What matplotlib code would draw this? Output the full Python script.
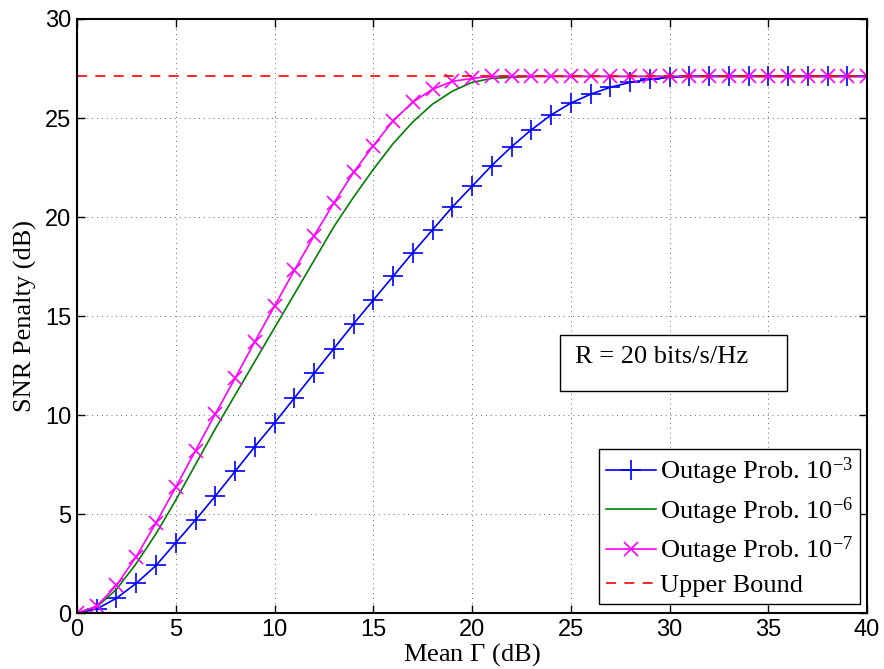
import numpy as np
import matplotlib
matplotlib.use("Agg")
import matplotlib.pyplot as plt
from matplotlib.patches import Rectangle

# --- Data ---
gamma_db = list(range(0, 41))

snr_p3 = [0.0, 0.2, 0.75, 1.5, 2.4, 3.55, 4.7, 5.9, 7.15, 8.4,
          9.6, 10.85, 12.1, 13.35, 14.6, 15.8, 17.0, 18.2, 19.35, 20.5,
          21.55, 22.6, 23.55, 24.4, 25.15, 25.75, 26.2, 26.55, 26.8, 26.95,
          27.05, 27.1, 27.1, 27.1, 27.1, 27.1, 27.1, 27.1, 27.1, 27.1, 27.1]

snr_p6 = [0.0, 0.3, 1.2, 2.5, 4.0, 5.7, 7.5, 9.3, 11.0, 12.7,
          14.4, 16.1, 17.8, 19.5, 21.0, 22.4, 23.7, 24.8, 25.7, 26.35,
          26.8, 27.0, 27.05, 27.1, 27.1, 27.1, 27.1, 27.1, 27.1, 27.1,
          27.1, 27.1, 27.1, 27.1, 27.1, 27.1, 27.1, 27.1, 27.1, 27.1, 27.1]

snr_p7 = [0.0, 0.35, 1.4, 2.85, 4.55, 6.35, 8.2, 10.05, 11.85, 13.7,
          15.5, 17.3, 19.05, 20.7, 22.25, 23.6, 24.85, 25.8, 26.45, 26.85,
          27.0, 27.1, 27.1, 27.1, 27.1, 27.1, 27.1, 27.1, 27.1, 27.1,
          27.1, 27.1, 27.1, 27.1, 27.1, 27.1, 27.1, 27.1, 27.1, 27.1, 27.1]

upper_bound = 27.1

labels = [r"Outage Prob. $10^{-3}$", r"Outage Prob. $10^{-6}$",
          r"Outage Prob. $10^{-7}$", "Upper Bound"]

# --- Figure ---
plt.rcParams['mathtext.fontset'] = 'custom'
plt.rcParams['mathtext.rm'] = 'Liberation Serif'
plt.rcParams['mathtext.it'] = 'Liberation Serif:italic'
serif = 'Liberation Serif'
fs = 19

fig = plt.figure(figsize=(8.84, 6.69), dpi=100)
ax = fig.add_axes([0.0871, 0.0837, 0.8937, 0.8879])

ax.plot(gamma_db, snr_p3, color=(0, 0, 1), lw=1.2, marker='+', ms=15, mew=1.2, label=labels[0])
ax.plot(gamma_db, snr_p6, color=(0, 0.5, 0), lw=1.2, label=labels[1])
ax.plot(gamma_db, snr_p7, color=(1, 0, 1), lw=1.2, marker='x', ms=10, mew=1.2, label=labels[2])
ax.plot([gamma_db[0], gamma_db[-1]], [upper_bound, upper_bound], color=(1, 0, 0),
        lw=1.2, ls=(0, (6, 5)), label=labels[3])

ax.set_xlim(0, 40)
ax.set_ylim(0, 30)
ax.set_xticks(range(0, 41, 5))
ax.set_yticks(range(0, 31, 5))
ax.grid(True, color='black', ls=(0, (1, 4)), lw=0.7, alpha=0.6)
ax.tick_params(direction='in', top=True, right=True, length=6, width=1,
               labelsize=17, pad=4)
for lab in ax.get_xticklabels() + ax.get_yticklabels():
    lab.set_family('Liberation Sans')
for sp in ax.spines.values():
    sp.set_linewidth(1.5)

ax.set_xlabel(r"Mean $\Gamma$ (dB)", family=serif, fontsize=fs)
ax.xaxis.set_label_coords(0.5, -0.048)
ax.set_ylabel("SNR Penalty (dB)", family=serif, fontsize=fs)
ax.yaxis.set_label_coords(-0.05, 0.5)

# annotation box
ax.add_patch(Rectangle((0.611, 0.374), 0.288, 0.094, transform=ax.transAxes,
                       fc='white', ec='black', lw=1, zorder=5))
ax.text(0.630, 0.421, "R = 20 bits/s/Hz", transform=ax.transAxes,
        family=serif, fontsize=fs, va='baseline', ha='left', zorder=6)

leg = ax.legend(loc='lower right', bbox_to_anchor=(0.991, 0.015),
                prop={'family': serif, 'size': fs},
                frameon=True, fancybox=False, edgecolor='black', framealpha=1,
                handlelength=1.9, handletextpad=0.15, borderpad=0.25,
                labelspacing=0.3, borderaxespad=0)
leg.get_frame().set_linewidth(1)

fig.savefig("out.png", dpi=100)
